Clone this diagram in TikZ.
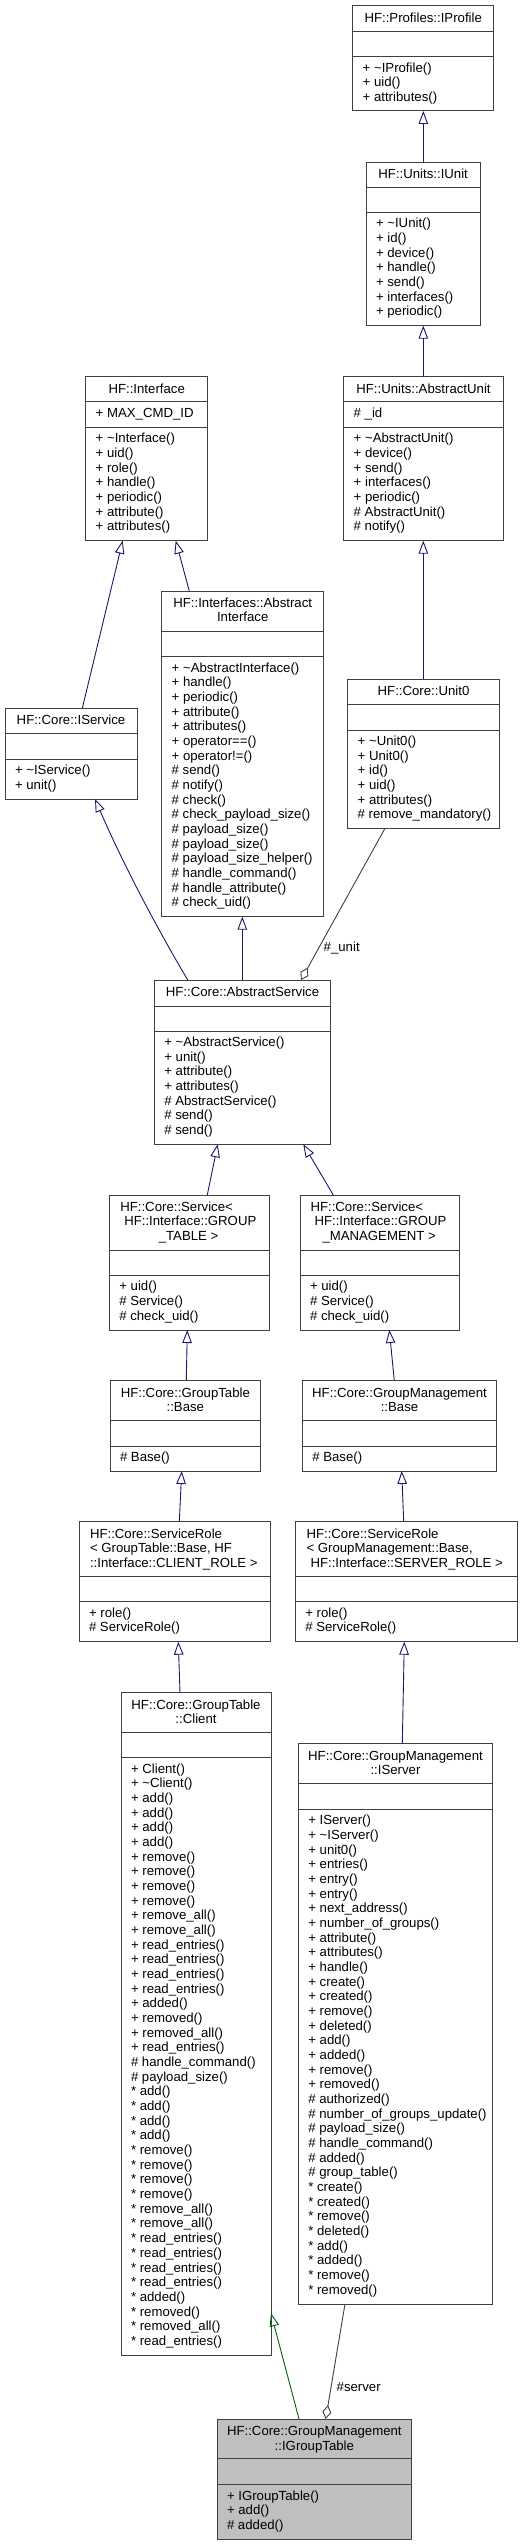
\documentclass[tikz,border=0pt]{standalone}
\usepackage{fontspec}
\setmainfont{Liberation Sans}
\usetikzlibrary{arrows.meta,calc}
\definecolor{edgeblue}{HTML}{191970}
\definecolor{edgegreen}{HTML}{006400}
\definecolor{edgegray}{HTML}{404040}
\definecolor{boxline}{HTML}{404040}
\definecolor{hilite}{HTML}{BFBFBF}
\newcommand\mlist[1]{\begin{tabular}[t]{@{}l@{}}#1\end{tabular}}
\newcommand\clist[1]{\begin{tabular}[t]{@{}c@{}}#1\end{tabular}}
% [style]{name}{L}{T}{R}{B}{sep1}{sep2}
\newcommand\classbox[8][]{%
  \node[classframe,#1,minimum width={#5-#3},minimum height={#6-#4},anchor=north west] (#2) at (#3,#4) {};
  \draw[classline] (#3,#7) -- (#5,#7) (#3,#8) -- (#5,#8);
}
\begin{document}
\begin{tikzpicture}[x=1pt,y=-1pt,
  every node/.style={font=\fontsize{13.2}{14.67}\selectfont, inner sep=0pt, outer sep=0pt, text=black},
  classframe/.style={draw=boxline, line width=1pt, fill=white, rectangle},
  hl/.style={fill=hilite},
  classline/.style={draw=boxline, line width=1pt},
  ttl/.style={anchor=base},
  ttll/.style={anchor=base west},
  mem/.style={anchor=base west},
  lbl/.style={anchor=center},
  inh/.style={draw=edgeblue, line width=0.9pt, -{Triangle[open,length=13pt,width=9.5pt]}},
  inhg/.style={inh, draw=edgegreen},
  agg/.style={draw=edgegray, line width=0.9pt, -{Diamond[open,length=14pt,width=9pt]}}]
\path[fill=white, use as bounding box] (0,0) rectangle (524,2545);

% ---------- classes ----------
\classbox{IProfile}{352.7}{5.7}{493.7}{111}{31.7}{56.7}
\node[ttl] (IProfile-t) at (423.2,22.2) {HF::Profiles::IProfile};
\node[mem] (IProfile-m) at (362.7,72.2) {\mlist{+ \textasciitilde IProfile()\\+ uid()\\+ attributes()}};

\classbox{IUnit}{366}{162}{480.3}{325.7}{187.3}{212.3}
\node[ttl] (IUnit-t) at (423.15,178.5) {HF::Units::IUnit};
\node[mem] (IUnit-m) at (376,227.8) {\mlist{+ \textasciitilde IUnit()\\+ id()\\+ device()\\+ handle()\\+ send()\\+ interfaces()\\+ periodic()}};

\classbox{Interface}{85.7}{376.7}{207.7}{540.7}{401.7}{427.3}
\node[ttl] (Interface-t) at (146.7,393.2) {HF::Interface};
\node[mem] (Interface-a) at (95.7,417.2) {+ MAX\_CMD\_ID};
\node[mem] (Interface-m) at (95.7,442.8) {\mlist{+ \textasciitilde Interface()\\+ uid()\\+ role()\\+ handle()\\+ periodic()\\+ attribute()\\+ attributes()}};

\classbox{AbstractUnit}{343.7}{376.7}{503.3}{540.7}{401.7}{427.3}
\node[ttl] (AbstractUnit-t) at (423.5,393.2) {HF::Units::AbstractUnit};
\node[mem] (AbstractUnit-a) at (353.7,417.2) {\# \_id};
\node[mem] (AbstractUnit-m) at (353.7,442.8) {\mlist{+ \textasciitilde AbstractUnit()\\+ device()\\+ send()\\+ interfaces()\\+ periodic()\\\# AbstractUnit()\\\# notify()}};

\classbox{AbstractInterface}{161.7}{591}{323.7}{916.7}{631}{656.7}
\node[ttl] (AbstractInterface-t) at (242.7,607.3) {\clist{HF::Interfaces::Abstract\\Interface}};
\node[mem] (AbstractInterface-m) at (171.7,672.2) {\mlist{+ \textasciitilde AbstractInterface()\\+ handle()\\+ periodic()\\+ attribute()\\+ attributes()\\+ operator==()\\+ operator!=()\\\# send()\\\# notify()\\\# check()\\\# check\_payload\_size()\\\# payload\_size()\\\# payload\_size()\\\# payload\_size\_helper()\\\# handle\_command()\\\# handle\_attribute()\\\# check\_uid()}};

\classbox{IService}{5}{708.3}{137}{799}{733.3}{759.3}
\node[ttl] (IService-t) at (71,724.8) {HF::Core::IService};
\node[mem] (IService-m) at (15,774.8) {\mlist{+ \textasciitilde IService()\\+ unit()}};

\classbox{UnitZero}{347.7}{679.3}{499.3}{828.3}{704}{730}
\node[ttl] (UnitZero-t) at (423.5,695.8) {HF::Core::Unit0};
\node[mem] (UnitZero-m) at (357.7,745.5) {\mlist{+ \textasciitilde Unit0()\\+ Unit0()\\+ id()\\+ uid()\\+ attributes()\\\# remove\_mandatory()}};

\classbox{AbstractService}{154.3}{980}{330.7}{1144.3}{1006}{1031}
\node[ttl] (AbstractService-t) at (242.5,996.5) {HF::Core::AbstractService};
\node[mem] (AbstractService-m) at (164.3,1046.5) {\mlist{+ \textasciitilde AbstractService()\\+ unit()\\+ attribute()\\+ attributes()\\\# AbstractService()\\\# send()\\\# send()}};

\classbox{ServiceGT}{109.3}{1195}{269.3}{1330}{1250}{1275.3}
\node[ttll] (ServiceGT-t) at (120.3,1211.3) {\mlist{HF::Core::Service<\\\hspace{4pt}HF::Interface::GROUP\\\hspace{38.5pt}\_TABLE >}};
\node[mem] (ServiceGT-m) at (119.3,1290.8) {\mlist{+ uid()\\\# Service()\\\# check\_uid()}};

\classbox{ServiceGM}{300}{1195}{459.3}{1330}{1250}{1275.3}
\node[ttll] (ServiceGM-t) at (310.5,1211.3) {\mlist{HF::Core::Service<\\\hspace{4pt}HF::Interface::GROUP\\\hspace{12pt}\_MANAGEMENT >}};
\node[mem] (ServiceGM-m) at (310,1290.8) {\mlist{+ uid()\\\# Service()\\\# check\_uid()}};

\classbox{GTBase}{110}{1380.7}{260.7}{1471}{1420.3}{1446}
\node[ttl] (GTBase-t) at (185.35,1397.2) {\clist{HF::Core::GroupTable\\::Base}};
\node[mem] (GTBase-m) at (120,1461.5) {\# Base()};

\classbox{GMBase}{302.3}{1380.7}{496.7}{1471}{1420.3}{1446}
\node[ttl] (GMBase-t) at (399.5,1397.2) {\clist{HF::Core::GroupManagement\\::Base}};
\node[mem] (GMBase-m) at (312.3,1461.5) {\# Base()};

\classbox{SRClient}{79}{1521.7}{270.3}{1641.7}{1576.7}{1601.7}
\node[ttll] (SRClient-t) at (90,1538) {\mlist{HF::Core::ServiceRole\\< GroupTable::Base, HF\\::Interface::CLIENT\_ROLE >}};
\node[mem] (SRClient-m) at (89,1617.2) {\mlist{+ role()\\\# ServiceRole()}};

\classbox{SRServer}{295.3}{1521.7}{517.3}{1641.7}{1576.7}{1601.7}
\node[ttll] (SRServer-t) at (306.5,1538) {\mlist{HF::Core::ServiceRole\\< GroupManagement::Base,\\\hspace{4pt}HF::Interface::SERVER\_ROLE >}};
\node[mem] (SRServer-m) at (305.3,1617.2) {\mlist{+ role()\\\# ServiceRole()}};

\classbox{GTClient}{121}{1692.7}{271}{2355}{1732.7}{1757.7}
\node[ttl] (GTClient-t) at (196,1709.2) {\clist{HF::Core::GroupTable\\::Client}};
\node[mem] (GTClient-m) at (131,1773.2) {\mlist{+ Client()\\+ \textasciitilde Client()\\+ add()\\+ add()\\+ add()\\+ add()\\+ remove()\\+ remove()\\+ remove()\\+ remove()\\+ remove\_all()\\+ remove\_all()\\+ read\_entries()\\+ read\_entries()\\+ read\_entries()\\+ read\_entries()\\+ added()\\+ removed()\\+ removed\_all()\\+ read\_entries()\\\# handle\_command()\\\# payload\_size()\\{*} add()\\{*} add()\\{*} add()\\{*} add()\\{*} remove()\\{*} remove()\\{*} remove()\\{*} remove()\\{*} remove\_all()\\{*} remove\_all()\\{*} read\_entries()\\{*} read\_entries()\\{*} read\_entries()\\{*} read\_entries()\\{*} added()\\{*} removed()\\{*} removed\_all()\\{*} read\_entries()}};

\classbox{IServer}{298.3}{1743.7}{492.7}{2304}{1783.7}{1809.3}
\node[ttl] (IServer-t) at (395.5,1760.2) {\clist{HF::Core::GroupManagement\\::IServer}};
\node[mem] (IServer-m) at (308.3,1824.8) {\mlist{+ IServer()\\+ \textasciitilde IServer()\\+ unit0()\\+ entries()\\+ entry()\\+ entry()\\+ next\_address()\\+ number\_of\_groups()\\+ attribute()\\+ attributes()\\+ handle()\\+ create()\\+ created()\\+ remove()\\+ deleted()\\+ add()\\+ added()\\+ remove()\\+ removed()\\\# authorized()\\\# number\_of\_groups\_update()\\\# payload\_size()\\\# handle\_command()\\\# added()\\\# group\_table()\\{*} create()\\{*} created()\\{*} remove()\\{*} deleted()\\{*} add()\\{*} added()\\{*} remove()\\{*} removed()}};

\classbox[hl]{IGroupTable}{217}{2419}{411.7}{2539}{2458.7}{2484.7}
\node[ttl] (IGroupTable-t) at (314.35,2435.5) {\clist{HF::Core::GroupManagement\\::IGroupTable}};
\node[mem] (IGroupTable-m) at (227,2500.2) {\mlist{+ IGroupTable()\\+ add()\\\# added()}};

% ---------- connectors ----------
\draw[inh] ($(IUnit.north west)+(57.3,0)$) -- ($(IProfile.south west)+(70.6,0)$);
\draw[inh] ($(AbstractUnit.north west)+(79.6,0)$) -- ($(IUnit.south west)+(57.3,0)$);
\draw[inh] ($(IService.north west)+(77.3,0)$) -- ($(Interface.south west)+(37,0)$);
\draw[inh] ($(AbstractInterface.north west)+(27.6,0)$) -- ($(Interface.south west)+(90,0)$);
\draw[inh] ($(UnitZero.north west)+(75.6,0)$) -- ($(AbstractUnit.south west)+(79.6,0)$);
\draw[inh] ($(AbstractService.north west)+(33.4,0)$) .. controls (170,950) and (130,880) .. ($(IService.south west)+(90,0)$);
\draw[inh] ($(AbstractService.north west)+(88,0)$) -- ($(AbstractInterface.south west)+(80.6,0)$);
\draw[agg] ($(UnitZero.south west)+(37.3,0)$) -- ($(AbstractService.north west)+(146.7,0)$);
\node[lbl] (unitlbl) at (341.7,947.7) {\#\_unit};
\draw[inh] ($(ServiceGT.north west)+(98,0)$) -- ($(AbstractService.south west)+(63.4,0)$);
\draw[inh] ($(ServiceGM.north west)+(33.3,0)$) -- ($(AbstractService.south west)+(149,0)$);
\draw[inh] ($(GTBase.north west)+(76.3,0)$) -- ($(ServiceGT.south west)+(78,0)$);
\draw[inh] ($(GMBase.north west)+(92,0)$) -- ($(ServiceGM.south west)+(89.3,0)$);
\draw[inh] ($(SRClient.north west)+(100.3,0)$) -- ($(GTBase.south west)+(71.7,0)$);
\draw[inh] ($(SRServer.north west)+(108.4,0)$) -- ($(GMBase.south west)+(99.4,0)$);
\draw[inh] ($(GTClient.north west)+(59,0)$) -- ($(SRClient.south west)+(99.3,0)$);
\draw[inh] ($(IServer.north west)+(104,0)$) -- ($(SRServer.south west)+(109,0)$);
\draw[inhg] ($(IGroupTable.north west)+(82,0)$) -- ($(GTClient.south east)+(0,-41.7)$);
\draw[agg] ($(IServer.south west)+(46.7,0)$) -- ($(IGroupTable.north west)+(108.7,0)$);
\node[lbl] (serverlbl) at (358.7,2386.7) {\#server};
\end{tikzpicture}
\end{document}
